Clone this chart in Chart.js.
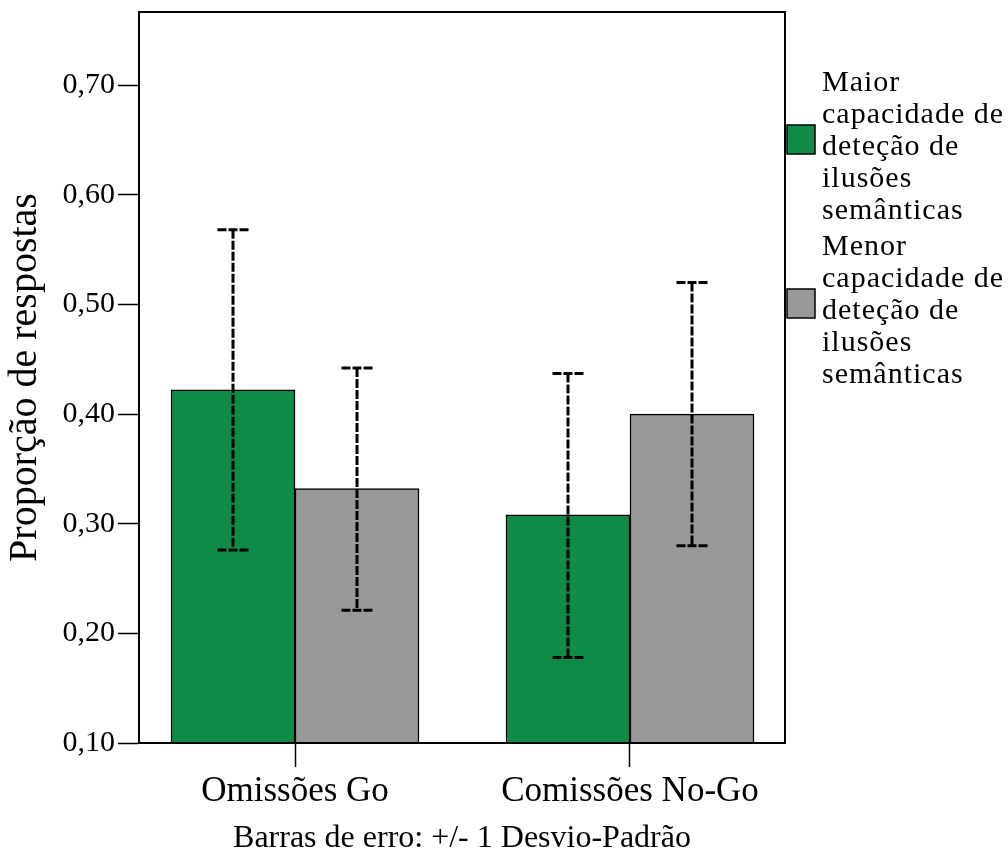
<!DOCTYPE html>
<html>
<head>
<meta charset="utf-8">
<script src="https://cdn.jsdelivr.net/npm/chart.js@4"></script>
<style>
  html, body { margin: 0; padding: 0; background: #fff; }
  #wrap { width: 1008px; height: 855px; position: relative; }
</style>
</head>
<body>
<div id="wrap"><canvas id="chart"></canvas></div>
<script>
const categories = ['Omissões Go', 'Comissões No-Go'];
const seriesNames = [
    ['Maior', 'capacidade de', 'deteção de', 'ilusões', 'semânticas'],
    ['Menor', 'capacidade de', 'deteção de', 'ilusões', 'semânticas']
];
const maiorMeans = [0.422, 0.308];
const menorMeans = [0.332, 0.400];
const maiorLow = [0.276, 0.178];
const maiorHigh = [0.568, 0.437];
const menorLow = [0.221, 0.280];
const menorHigh = [0.442, 0.520];
const yTicks = [0.1, 0.2, 0.3, 0.4, 0.5, 0.6, 0.7];

const colors = ['#108c48', '#999999'];
const serif = "'Liberation Serif', 'Times New Roman', serif";

// dashed error bars with caps, drawn from each bar's own position
const errorBars = {
    id: 'errorBars',
    afterDatasetsDraw(chart) {
        const ctx = chart.ctx;
        const y = chart.scales.y;
        const lows = [maiorLow, menorLow];
        const highs = [maiorHigh, menorHigh];
        ctx.save();
        ctx.strokeStyle = '#000';
        ctx.lineWidth = 3;
        ctx.setLineDash([9, 2]);
        chart.data.datasets.forEach((ds, i) => {
            chart.getDatasetMeta(i).data.forEach((bar, j) => {
                const yl = y.getPixelForValue(lows[i][j]);
                const yh = y.getPixelForValue(highs[i][j]);
                ctx.beginPath();
                ctx.moveTo(bar.x, yh);
                ctx.lineTo(bar.x, yl);
                ctx.moveTo(bar.x - 15.5, yh);
                ctx.lineTo(bar.x + 15.5, yh);
                ctx.moveTo(bar.x - 15.5, yl);
                ctx.lineTo(bar.x + 15.5, yl);
                ctx.stroke();
            });
        });
        ctx.restore();
    }
};

// box around plot + legend on the right
const frameAndLegend = {
    id: 'frameAndLegend',
    afterDraw(chart) {
        const ctx = chart.ctx;
        const a = chart.chartArea;
        ctx.save();
        ctx.strokeStyle = '#000';
        ctx.lineWidth = 2;
        ctx.strokeRect(a.left, a.top, a.right - a.left, a.bottom - a.top);

        ctx.font = '30px ' + serif;
        ctx.fillStyle = '#000';
        ctx.textBaseline = 'alphabetic';
        if ('letterSpacing' in ctx) ctx.letterSpacing = '1px';
        const x0 = a.right + 37;
        seriesNames.forEach((lines, i) => {
            const base = 91 + i * 164;
            lines.forEach((t, k) => ctx.fillText(t, x0, base + k * 32));
            ctx.fillStyle = colors[i];
            ctx.fillRect(a.right + 2, base + 34, 28, 29);
            ctx.lineWidth = 1.5;
            ctx.strokeRect(a.right + 2, base + 34, 28, 29);
            ctx.fillStyle = '#000';
        });
        ctx.restore();
    }
};

function draw() {
    new Chart(document.getElementById('chart'), {
        type: 'bar',
        data: {
            datasets: [
                {
                    label: seriesNames[0].join(' '),
                    data: maiorMeans.map((v, i) => ({ x: i, y: v })),
                    backgroundColor: colors[0],
                    borderColor: '#000',
                    borderWidth: 1.5,
                    barThickness: 124
                },
                {
                    label: seriesNames[1].join(' '),
                    data: menorMeans.map((v, i) => ({ x: i, y: v })),
                    backgroundColor: colors[1],
                    borderColor: '#000',
                    borderWidth: 1.5,
                    barThickness: 124
                }
            ]
        },
        options: {
            responsive: true,
            maintainAspectRatio: false,
            animation: false,
            layout: { padding: { left: 0, top: 12, right: 223, bottom: 0 } },
            plugins: {
                legend: { display: false },
                tooltip: { enabled: false }
            },
            scales: {
                x: {
                    type: 'linear',
                    offset: false,
                    min: -0.4657,
                    max: 1.4627,
                    afterFit(s) { s.height = 112; s.paddingLeft = 0; s.paddingRight = 0; },
                    afterBuildTicks(s) { s.ticks = categories.map((c, i) => ({ value: i })); },
                    grid: {
                        offset: false,
                        drawOnChartArea: false,
                        tickLength: 24,
                        tickWidth: 1.5,
                        tickColor: '#000'
                    },
                    border: { color: '#000', width: 2 },
                    ticks: {
                        color: '#000',
                        padding: 4,
                        font: { family: serif, size: 35 },
                        callback: v => categories[v]
                    },
                    title: {
                        display: true,
                        text: 'Barras de erro: +/- 1 Desvio-Padrão',
                        color: '#000',
                        font: { family: serif, size: 32, lineHeight: 1 },
                        padding: { top: 0, bottom: 0 }
                    }
                },
                y: {
                    min: 0.1,
                    max: 0.7667,
                    afterFit(s) { s.width = 139; s.paddingTop = 0; s.paddingBottom = 0; },
                    afterBuildTicks(s) { s.ticks = yTicks.map(v => ({ value: v })); },
                    grid: {
                        drawOnChartArea: false,
                        tickLength: 21,
                        tickWidth: 1.5,
                        tickColor: '#000'
                    },
                    border: { color: '#000', width: 2 },
                    ticks: {
                        color: '#000',
                        padding: 3,
                        font: { family: serif, size: 30 },
                        callback: v => v.toFixed(2).replace('.', ',')
                    },
                    title: {
                        display: true,
                        text: 'Proporção de respostas',
                        color: '#000',
                        font: { family: serif, size: 40, lineHeight: 1 },
                        padding: { top: 5, bottom: 0 }
                    }
                }
            }
        },
        plugins: [errorBars, frameAndLegend]
    });
}

document.fonts.load('30px "Liberation Serif"').then(draw, draw);
</script>
</body>
</html>
